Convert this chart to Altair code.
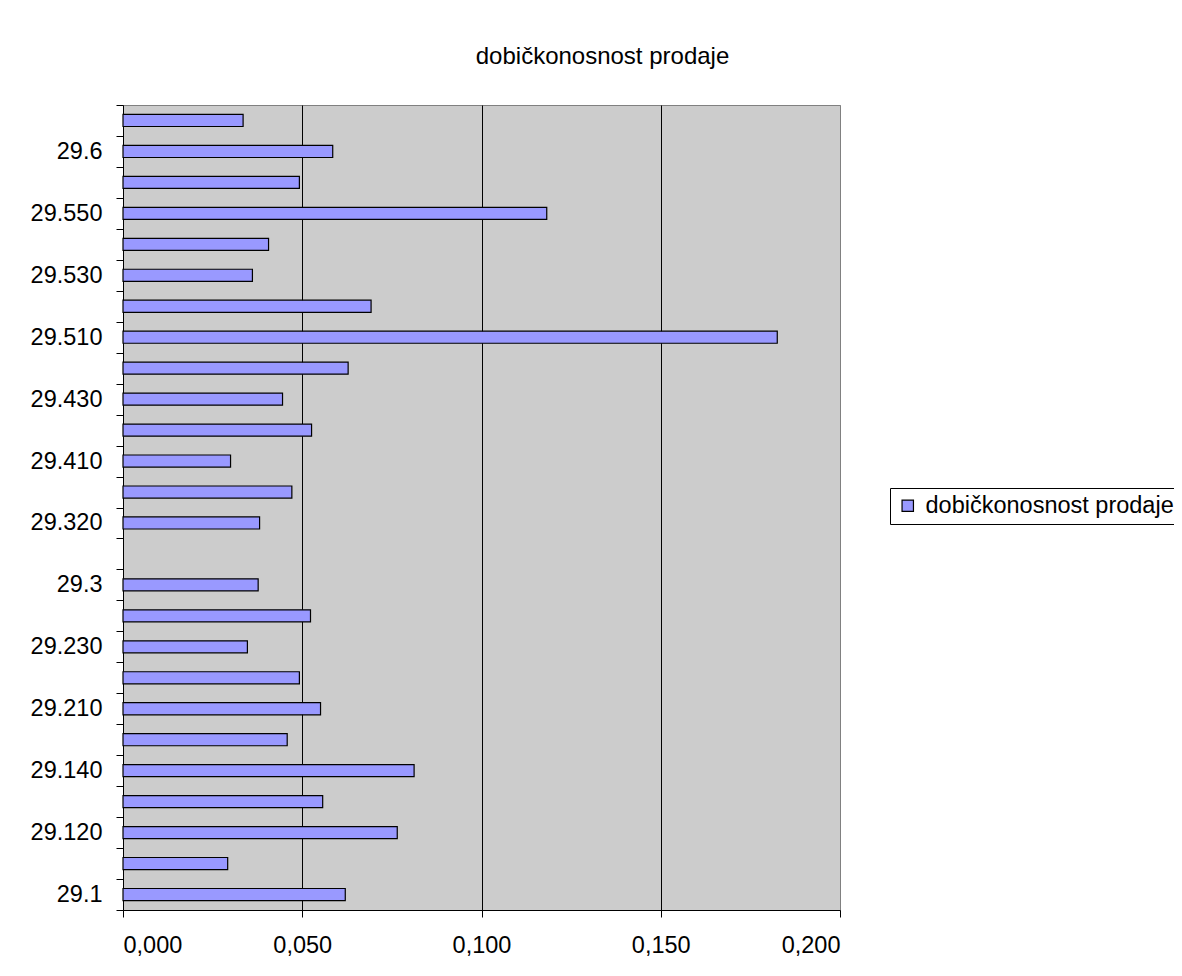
import altair as alt
import pandas as pd

# categories listed bottom-to-top (as in the source chart)
categories = ["29.1", "29.110", "29.120", "29.130", "29.140", "29.2", "29.210",
              "29.220", "29.230", "29.240", "29.3", "29.310", "29.320", "29.4",
              "29.410", "29.420", "29.430", "29.5", "29.510", "29.520", "29.530",
              "29.540", "29.550", "29.560", "29.6", "29.7"]
values = [0.0620, 0.0292, 0.0765, 0.0557, 0.0812, 0.0458, 0.0551,
          0.0492, 0.0347, 0.0523, 0.0377, None, 0.0381, 0.0471,
          0.0300, 0.0526, 0.0445, 0.0628, 0.1825, 0.0692, 0.0361,
          0.0406, 0.1182, 0.0492, 0.0585, 0.0335]
shown_labels = ["29.1", "29.120", "29.140", "29.210", "29.230", "29.3", "29.320",
                "29.410", "29.430", "29.510", "29.530", "29.550", "29.6"]
x_ticks = [0.0, 0.05, 0.10, 0.15, 0.20]
series_name = "dobičkonosnost prodaje"

df = pd.DataFrame({"kat": categories, "v": values, "s": series_name})

FONT = "Liberation Sans"
label_list = "[" + ",".join("'" + s + "'" for s in shown_labels) + "]"

bars = alt.Chart(df).mark_bar(stroke="black", strokeWidth=1.2,
                              height={"band": 0.39}).encode(
    x=alt.X("v:Q",
            scale=alt.Scale(domain=[0, 0.2], nice=False, zero=True),
            axis=alt.Axis(values=x_ticks, title=None, grid=True,
                          gridColor={"condition": {"test": "datum.value >= 0.2 || datum.value <= 0", "value": "#808080"}, "value": "black"},
                          gridWidth=1, domainColor="black", tickColor="black",
                          tickSize=7, labelFontSize=23.5, labelColor="black",
                          labelPadding=16, labelFont=FONT,
                          labelExpr="replace(format(datum.value, '.3f'), '.', ',')")),
    y=alt.Y("kat:N", sort=categories[::-1],
            scale=alt.Scale(paddingInner=0, paddingOuter=0),
            axis=alt.Axis(title=None, tickBand="extent", tickSize=7,
                          tickColor="black", domainColor="black",
                          labelFontSize=23.5, labelColor="black", labelFont=FONT,
                          labelPadding=14,
                          labelExpr="indexof(" + label_list + ", datum.label) >= 0 ? datum.label : ''")),
    color=alt.Color("s:N", scale=alt.Scale(range=["#9999FF"]),
                    legend=alt.Legend(title=None, orient="none", legendX=767, legendY=383,
                                      padding=6, strokeColor="black", fillColor="white",
                                      symbolType="square", symbolSize=130,
                                      symbolStrokeColor="black", symbolStrokeWidth=1.2,
                                      labelFontSize=23.5, labelFont=FONT, labelColor="black",
                                      labelOffset=6, labelLimit=500)),
)

chart = bars.properties(
    width=717, height=805,
    title=alt.TitleParams(series_name, fontSize=24, font=FONT, fontWeight="normal",
                          color="black", anchor="middle", dx=121, offset=42,
                          baseline="alphabetic", dy=37),
    autosize=alt.AutoSizeParams(type="none"),
    padding={"left": 115, "top": 97, "right": 334, "bottom": 58},
).configure(background="white").configure_view(
    fill="#CCCCCC", stroke="#808080", strokeWidth=1
)

chart.save("out.html", embed_options={"renderer": "svg", "actions": False})
